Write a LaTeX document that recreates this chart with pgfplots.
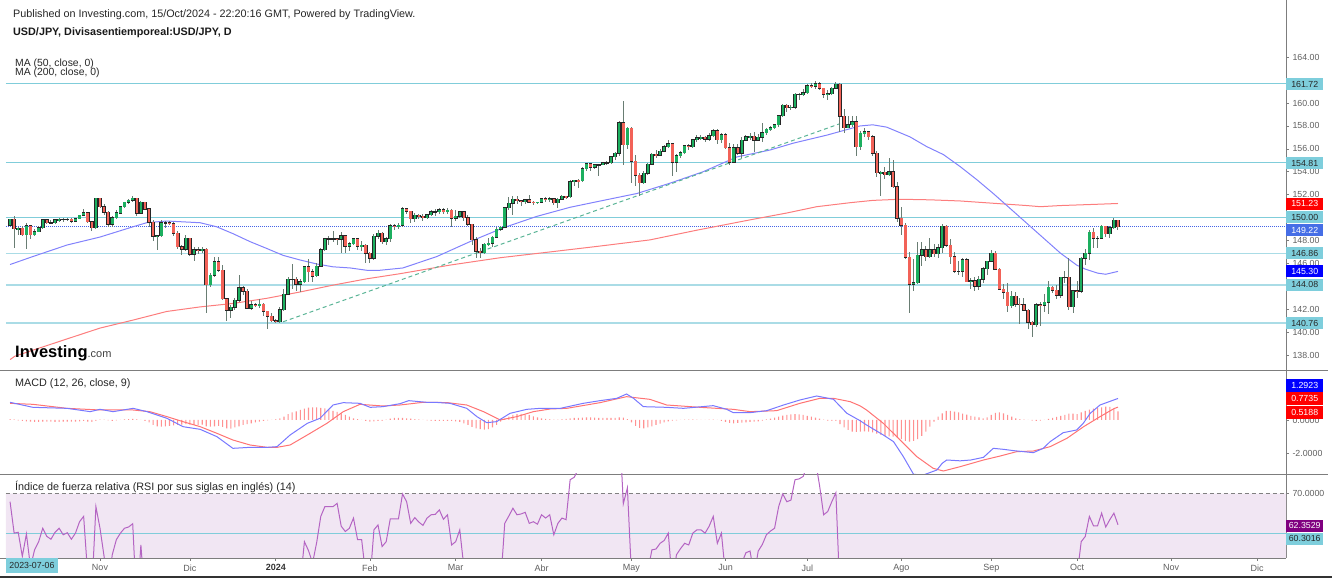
\documentclass[border=0pt]{standalone}
\usepackage{pgfplots}
\pgfplotsset{compat=1.18}
\usepackage{pgfplotstable}
\usepackage{fontspec}
\setmainfont{Liberation Sans}
\setsansfont{Liberation Sans}

\definecolor{lvl}{RGB}{128,205,218}
\definecolor{lvllight}{RGB}{170,220,230}
\definecolor{upc}{RGB}{28,175,95}
\definecolor{dnc}{RGB}{242,98,88}
\definecolor{wick}{RGB}{105,125,115}
\definecolor{ma50}{RGB}{130,130,252}
\definecolor{ma200}{RGB}{252,125,125}
\definecolor{trend}{RGB}{90,180,150}
\definecolor{pricel}{RGB}{70,100,230}
\definecolor{tickc}{RGB}{95,95,95}
\definecolor{sep}{RGB}{125,125,125}
\definecolor{boxcyan}{RGB}{126,206,220}
\definecolor{boxroyal}{RGB}{70,110,230}
\definecolor{boxpurple}{RGB}{128,0,128}
\definecolor{rsiband}{RGB}{241,230,243}
\definecolor{rsil}{RGB}{180,100,195}
\definecolor{histc}{RGB}{255,145,145}
\definecolor{macdb}{RGB}{120,120,255}
\definecolor{macdr}{RGB}{255,115,115}

\pgfplotstableread{
i o h l c
0 149.35 149.90 149.30 149.85
1 149.85 150.16 147.30 149.02
2 149.02 149.20 148.50 149.05
3 149.05 149.30 148.45 148.50
4 148.50 149.53 147.28 149.30
5 149.30 149.35 148.15 148.50
6 148.50 149.00 148.40 148.75
7 148.75 149.30 148.70 149.10
8 149.10 149.85 149.00 149.80
9 149.80 149.85 149.40 149.55
10 149.55 149.75 149.40 149.55
11 149.55 149.90 149.45 149.80
12 149.80 149.95 149.65 149.85
13 149.85 149.98 149.65 149.85
14 149.85 150.00 149.70 149.85
15 149.85 150.00 149.55 149.70
16 149.70 149.95 149.60 149.90
17 149.90 150.25 149.85 150.20
18 150.20 150.78 150.10 150.40
19 150.40 150.45 149.60 149.65
20 149.65 149.70 148.80 149.10
21 149.10 151.70 149.00 151.68
22 151.68 151.72 150.80 150.95
23 150.95 151.15 150.20 150.45
24 150.45 150.55 149.20 149.40
25 149.40 150.10 149.20 150.00
26 150.00 150.70 149.85 150.40
27 150.40 151.00 150.30 150.95
28 150.95 151.40 150.85 151.35
29 151.35 151.60 151.20 151.50
30 151.50 151.91 151.40 151.70
31 151.70 151.75 150.15 150.40
32 150.40 151.45 150.40 151.35
33 151.35 151.40 150.70 150.75
34 150.75 150.80 149.20 149.60
35 149.60 149.75 147.95 148.35
36 148.35 148.45 147.15 148.40
37 148.40 149.75 148.30 149.55
38 149.55 149.70 149.10 149.55
39 149.55 149.70 149.35 149.45
40 149.45 149.65 148.40 148.65
41 148.65 148.80 147.25 147.45
42 147.45 147.60 146.70 147.25
43 147.25 148.50 147.10 148.20
44 148.20 148.25 146.65 146.80
45 146.80 147.45 146.25 147.20
46 147.20 147.45 146.85 147.15
47 147.15 147.45 146.95 147.25
48 147.25 147.30 141.65 144.15
49 144.15 145.20 143.90 144.95
50 144.95 146.60 144.85 146.15
51 146.15 146.60 145.25 145.40
52 145.40 145.90 142.80 142.90
53 142.90 143.00 140.95 141.90
54 141.90 142.40 141.20 142.15
55 142.15 142.95 141.90 142.80
56 142.80 144.95 142.60 143.85
57 143.85 144.00 143.20 143.55
58 143.55 143.75 142.05 142.10
59 142.10 142.70 141.90 142.40
60 142.40 142.55 142.20 142.35
61 142.35 142.85 142.10 142.45
62 142.45 142.50 141.40 141.80
63 141.80 141.85 140.25 141.40
64 141.40 141.70 140.90 141.00
65 141.00 141.10 140.80 140.90
66 140.90 142.20 140.80 141.95
67 141.95 143.75 141.80 143.30
68 143.30 144.85 143.20 144.60
69 144.60 145.98 143.80 144.60
70 144.60 144.80 143.60 144.20
71 144.20 144.60 143.50 144.40
72 144.40 145.80 144.30 145.70
73 145.70 146.40 144.35 145.25
74 145.25 145.55 144.35 144.90
75 144.90 146.00 144.85 145.75
76 145.75 147.30 145.70 147.20
77 147.20 148.20 147.10 148.15
78 148.15 148.40 147.60 148.15
79 148.15 148.80 147.85 148.15
80 148.15 148.25 147.60 148.10
81 148.10 148.70 146.95 148.40
82 148.40 148.50 146.90 147.50
83 147.50 147.90 147.05 147.70
84 147.70 148.25 147.60 148.15
85 148.15 148.25 147.15 147.50
86 147.50 147.95 147.10 147.60
87 147.60 147.70 146.00 146.90
88 146.90 147.00 146.00 146.45
89 146.45 148.60 146.30 148.35
90 148.35 148.90 148.10 148.65
91 148.65 148.75 147.65 147.90
92 147.90 148.30 147.60 148.15
93 148.15 149.40 147.90 149.30
94 149.30 149.45 148.90 149.25
95 149.25 149.50 149.00 149.35
96 149.35 150.90 149.20 150.75
97 150.75 150.80 150.35 150.55
98 150.55 150.60 149.55 149.90
99 149.90 150.40 149.60 150.20
100 150.20 150.30 149.90 150.10
101 150.10 150.30 149.70 150.00
102 150.00 150.35 149.85 150.25
103 150.25 150.65 150.10 150.50
104 150.50 150.75 150.15 150.50
105 150.50 150.85 150.30 150.70
106 150.70 150.80 150.35 150.50
107 150.50 150.80 150.30 150.65
108 150.65 150.75 149.20 149.95
109 149.95 150.70 149.70 150.10
110 150.10 150.60 149.95 150.50
111 150.50 150.55 149.70 150.00
112 150.00 150.20 149.30 149.40
113 149.40 149.45 147.60 148.05
114 148.05 148.30 146.50 147.05
115 147.05 147.30 146.50 146.95
116 146.95 147.80 146.80 147.65
117 147.65 148.20 147.50 147.75
118 147.75 148.40 147.45 148.30
119 148.30 149.15 148.20 149.00
120 149.00 149.25 148.80 149.15
121 149.15 150.95 149.10 150.85
122 150.85 151.80 150.70 151.25
123 151.25 151.85 150.25 151.60
124 151.60 151.85 151.20 151.45
125 151.45 151.55 151.05 151.40
126 151.40 151.60 151.20 151.55
127 151.55 151.97 151.25 151.35
128 151.35 151.45 151.10 151.30
129 151.30 151.40 151.20 151.35
130 151.35 151.75 151.25 151.65
131 151.65 151.80 151.40 151.55
132 151.55 151.80 151.40 151.65
133 151.65 151.75 151.10 151.30
134 151.30 151.75 150.80 151.60
135 151.60 151.95 151.55 151.85
136 151.85 151.90 151.60 151.80
137 151.80 153.25 151.70 153.15
138 153.15 153.30 152.75 153.25
139 153.25 153.40 152.60 153.20
140 153.20 154.45 153.10 154.25
141 154.25 154.80 154.10 154.70
142 154.70 154.75 154.10 154.40
143 154.40 154.70 154.20 154.60
144 154.60 154.70 153.60 154.60
145 154.60 154.85 154.55 154.80
146 154.80 154.90 154.55 154.80
147 154.80 155.40 154.70 155.30
148 155.30 155.75 155.05 155.60
149 155.60 158.45 155.35 158.30
150 158.30 160.20 154.55 156.35
151 156.35 157.95 155.95 157.80
152 157.80 157.95 153.00 154.90
153 154.90 155.50 152.80 153.70
154 153.70 153.90 151.90 153.05
155 153.05 154.10 152.90 153.85
156 153.85 154.75 153.70 154.65
157 154.65 155.65 154.60 155.55
158 155.55 155.90 155.20 155.45
159 155.45 155.95 155.35 155.80
160 155.80 156.30 155.70 156.20
161 156.20 156.75 156.10 156.45
162 156.45 156.55 153.60 154.85
163 154.85 155.55 153.95 155.40
164 155.40 155.85 155.20 155.65
165 155.65 156.30 155.55 156.25
166 156.25 156.40 155.90 156.20
167 156.20 156.85 156.10 156.80
168 156.80 157.20 156.60 156.95
169 156.95 157.20 156.80 157.00
170 157.00 157.10 156.60 156.85
171 156.85 157.35 156.70 157.15
172 157.15 157.75 157.05 157.60
173 157.60 157.70 156.40 156.80
174 156.80 157.35 156.50 157.25
175 157.25 157.40 155.95 156.10
176 156.10 156.50 154.55 154.85
177 154.85 156.45 154.75 156.10
178 156.10 156.45 155.45 155.60
179 155.60 157.00 155.20 156.75
180 156.75 157.25 156.70 157.05
181 157.05 157.35 156.75 157.10
182 157.10 157.45 155.70 156.75
183 156.75 157.30 156.70 157.00
184 157.00 158.25 156.60 157.40
185 157.40 157.80 157.25 157.70
186 157.70 158.00 157.60 157.85
187 157.85 158.20 157.75 158.10
188 158.10 159.00 157.95 158.90
189 158.90 159.90 158.80 159.80
190 159.80 159.95 159.25 159.60
191 159.60 159.80 159.40 159.65
192 159.65 160.85 159.50 160.75
193 160.75 160.90 160.30 160.75
194 160.75 161.25 160.60 160.90
195 160.90 161.70 160.80 161.50
196 161.50 161.75 161.30 161.45
197 161.45 161.95 161.25 161.70
198 161.70 161.80 161.10 161.30
199 161.30 161.35 160.45 160.75
200 160.75 161.15 160.25 160.80
201 160.80 161.40 160.70 161.30
202 161.30 161.80 161.25 161.65
203 161.65 161.75 157.45 158.85
204 158.85 159.45 157.40 157.85
205 157.85 158.90 157.80 158.10
206 158.10 158.85 157.95 158.35
207 158.35 158.85 155.40 156.20
208 156.20 157.60 155.90 157.35
209 157.35 157.85 157.00 157.50
210 157.50 157.60 156.80 157.05
211 157.05 157.20 155.40 155.60
212 155.60 155.85 153.50 153.90
213 153.90 154.10 151.90 153.95
214 153.95 154.40 153.40 153.75
215 153.75 155.20 153.60 154.00
216 154.00 155.05 152.55 152.70
217 152.70 153.10 149.65 149.95
218 149.95 150.90 148.50 149.35
219 149.35 149.55 146.40 146.55
220 146.55 147.00 141.70 144.20
221 144.20 146.40 143.60 144.30
222 144.30 147.90 144.20 146.70
223 146.70 147.85 145.80 147.20
224 147.20 147.50 146.25 146.60
225 146.60 148.20 146.50 147.20
226 147.20 147.70 146.60 146.85
227 146.85 147.65 146.50 147.35
228 147.35 149.40 146.95 149.25
229 149.25 149.35 147.45 147.60
230 147.60 148.10 145.95 146.60
231 146.60 147.00 145.20 145.30
232 145.30 146.20 144.95 145.30
233 145.30 146.50 144.85 146.30
234 146.30 146.45 144.40 144.40
235 144.40 144.70 143.80 144.50
236 144.50 144.80 143.55 144.00
237 144.00 144.90 143.70 144.60
238 144.60 145.70 144.30 145.55
239 145.55 146.25 144.95 146.20
240 146.20 147.20 146.10 146.90
241 146.90 147.10 145.45 145.50
242 145.50 145.60 143.70 143.75
243 143.75 144.20 142.90 143.50
244 143.50 144.30 141.75 142.30
245 142.30 143.60 142.10 143.15
246 143.15 143.50 142.20 142.45
247 142.45 142.95 140.70 142.40
248 142.40 143.00 141.80 141.90
249 141.90 142.00 140.30 140.85
250 140.85 141.00 139.60 140.65
251 140.65 142.50 140.45 142.40
252 142.40 142.60 140.50 142.35
253 142.35 143.30 141.75 142.60
254 142.60 144.50 141.60 143.90
255 143.90 144.05 143.40 143.65
256 143.65 144.10 142.90 143.20
257 143.20 144.85 142.95 144.80
258 144.80 145.30 144.30 144.80
259 144.80 146.50 141.95 142.20
260 142.20 143.70 141.65 143.60
261 143.60 144.50 142.95 143.55
262 143.55 146.55 143.40 146.45
263 146.45 147.25 145.90 146.90
264 146.90 148.95 146.30 148.70
265 148.70 149.10 147.35 148.20
266 148.20 148.35 147.35 148.20
267 148.20 149.35 148.10 149.25
268 149.25 149.30 148.30 148.60
269 148.60 149.30 148.20 149.10
270 149.10 149.95 149.00 149.75
271 149.75 149.80 148.90 149.20
}\candles

\pgfplotstableread[row sep=\\]{v\\
0.05\\0.03\\-0.02\\-0.05\\-0.08\\-0.1\\-0.12\\-0.12\\-0.1\\-0.1\\
-0.1\\-0.12\\-0.12\\-0.1\\-0.1\\-0.1\\-0.1\\-0.08\\-0.05\\-0.1\\
-0.12\\-0.05\\0.02\\0.02\\-0.03\\-0.05\\-0.03\\0.0\\0.03\\0.05\\
0.06\\0.03\\0.0\\-0.05\\-0.15\\-0.3\\-0.38\\-0.4\\-0.38\\-0.35\\
-0.32\\-0.3\\-0.28\\-0.25\\-0.28\\-0.3\\-0.3\\-0.28\\-0.38\\-0.4\\
-0.38\\-0.36\\-0.42\\-0.5\\-0.52\\-0.45\\-0.38\\-0.3\\-0.25\\-0.2\\
-0.15\\-0.1\\-0.06\\-0.03\\0.0\\0.03\\0.1\\0.2\\0.35\\0.45\\
0.52\\0.6\\0.68\\0.74\\0.76\\0.75\\0.72\\0.7\\0.62\\0.55\\
0.48\\0.4\\0.3\\0.2\\0.1\\0.05\\0.0\\-0.05\\-0.1\\-0.08\\
-0.06\\-0.05\\0.02\\0.08\\0.12\\0.12\\0.12\\0.1\\0.08\\0.05\\
0.03\\0.0\\-0.02\\-0.05\\-0.06\\-0.05\\-0.05\\-0.05\\-0.06\\-0.08\\
-0.12\\-0.2\\-0.3\\-0.42\\-0.5\\-0.55\\-0.58\\-0.55\\-0.45\\-0.3\\
-0.1\\0.08\\0.2\\0.3\\0.35\\0.36\\0.34\\0.3\\0.22\\0.15\\
0.1\\0.06\\0.03\\0.02\\0.02\\0.04\\0.06\\0.1\\0.12\\0.12\\
0.14\\0.15\\0.15\\0.14\\0.13\\0.12\\0.12\\0.12\\0.12\\0.15\\
0.14\\0.05\\-0.15\\-0.35\\-0.48\\-0.5\\-0.45\\-0.38\\-0.3\\-0.22\\
-0.15\\-0.08\\-0.04\\-0.02\\0.0\\0.02\\0.02\\0.03\\0.02\\0.0\\
0.0\\0.02\\0.02\\0.0\\-0.05\\-0.12\\-0.18\\-0.2\\-0.18\\-0.16\\
-0.14\\-0.12\\-0.1\\-0.08\\-0.04\\0.03\\0.08\\0.14\\0.2\\0.26\\
0.3\\0.33\\0.35\\0.33\\0.3\\0.25\\0.2\\0.14\\0.08\\0.02\\
-0.04\\-0.06\\-0.05\\-0.25\\-0.45\\-0.6\\-0.7\\-0.72\\-0.7\\-0.68\\
-0.7\\-0.75\\-0.82\\-0.9\\-0.95\\-0.98\\-1.0\\-1.05\\-1.15\\-1.25\\
-1.3\\-1.25\\-1.15\\-0.95\\-0.7\\-0.4\\-0.1\\0.2\\0.4\\0.55\\
0.55\\0.5\\0.45\\0.38\\0.32\\0.25\\0.2\\0.15\\0.1\\0.15\\
0.3\\0.42\\0.45\\0.4\\0.3\\0.2\\0.1\\0.05\\0.02\\0.0\\
-0.04\\-0.05\\-0.04\\0.0\\0.06\\0.12\\0.18\\0.24\\0.3\\0.38\\
0.38\\0.35\\0.45\\0.55\\0.62\\0.68\\0.72\\0.76\\0.8\\0.78\\
0.65\\0.5188\\
}\hist

\pgfplotstableread[row sep=\\]{v\\
68.0\\60.3\\60.5\\54.6\\60.1\\52.0\\56.2\\58.2\\61.5\\59.5\\
58.8\\60.5\\61.5\\59.9\\60.4\\58.8\\60.3\\63.1\\64.4\\50.0\\
46.0\\66.8\\61.5\\54.6\\47.0\\55.0\\58.7\\60.3\\61.5\\61.8\\
62.6\\42\\57.4\\44\\38\\32\\33\\42\\42\\41\\
37\\33\\32\\38\\33\\36\\36\\37\\28\\33\\
39\\37\\30\\27\\29\\32\\37\\36\\32\\34\\
34\\35\\33\\31\\30\\30\\38\\44\\49\\49\\
47\\48\\58.2\\56.0\\53.0\\58.0\\64.4\\66.8\\66.8\\66.8\\
67.6\\62.0\\60.7\\61.5\\64.0\\58.7\\58.7\\50.0\\48.0\\61.1\\
62.3\\57.0\\58.2\\63.8\\63.8\\63.8\\69.9\\68.0\\62.7\\64.1\\
63.0\\62.2\\64.0\\64.8\\64.9\\66.0\\63.7\\64.8\\57.4\\58.2\\
61.1\\52.0\\45\\38\\33\\33\\40\\41\\45\\50\\
48\\62.7\\64.5\\66.4\\64.8\\65.0\\65.4\\62.7\\63.1\\62.5\\
64.8\\64.0\\64.8\\59.9\\62.7\\64.0\\63.6\\73.4\\74.0\\76\\
80\\82\\79\\80\\80\\81\\81\\83\\84\\88\\
67.5\\71.4\\50\\44\\40\\46\\51\\56.2\\56.4\\57.8\\
58.5\\60.3\\48\\55.0\\56.5\\57.8\\57.4\\60.3\\61.1\\61.1\\
60.3\\62.0\\64.4\\57.8\\60.3\\50\\42\\50\\47\\53\\
55.5\\55.9\\50\\55.9\\57.5\\59.9\\60.8\\61.5\\66.8\\69.9\\
68.0\\68.4\\73.4\\73.6\\74.2\\77\\77\\78\\72\\64.8\\
65.6\\68.0\\70.2\\45\\40\\42\\43\\36\\41\\42\\
40\\34\\28\\29\\28\\30\\27\\22\\21\\17\\
15\\18\\27\\30\\29\\32\\31\\33\\40\\37\\
35\\33\\33\\37\\33\\33\\32\\35\\37\\41\\
43\\40\\36\\35\\33\\36\\35\\35\\34\\31\\
31\\38\\38\\39\\43\\42\\41\\46\\46\\39\\
44\\50\\58.2\\59.5\\64.4\\62.1\\62.1\\65.2\\61.8\\63.6\\
65.2\\62.35\\
}\rsi

\pgfplotsset{
  panel/.style={
    scale only axis, width=1286pt,
    xmin=-2.46, xmax=312.1,
    axis x line*=bottom, axis y line*=right,
    axis line style={draw=sep, line width=0.8pt},
    tick align=outside, major tick length=3pt,
    tick style={draw=sep, line width=0.6pt},
    scaled y ticks=false,
    yticklabel style={font=\fontsize{8.8}{10}\selectfont, text=tickc, anchor=west},
    /pgf/number format/assume math mode=true,
    clip=true,
  },
}
\tikzset{pbox/.style={anchor=west, minimum width=37pt, minimum height=12pt, inner sep=0pt, font=\fontsize{8.8}{10}\selectfont}}

\begin{document}
\begin{tikzpicture}
\useasboundingbox (0pt,0pt) rectangle (1332pt,578pt);

% ---------------- price panel ----------------
\begin{axis}[panel, at={(0pt,208pt)}, anchor=south west, height=370pt,
  ymin=136.69, ymax=169.0, xtick=\empty,
  ytick={138,140,142,144,146,148,150,152,154,156,158,160,164},
  yticklabel style={/pgf/number format/fixed, /pgf/number format/fixed zerofill, /pgf/number format/precision=2}]
\addplot[lvl, line width=1pt, forget plot] coordinates {(-1,161.72) (312.1,161.72)};
\addplot[lvl, line width=1pt, forget plot] coordinates {(-1,154.81) (312.1,154.81)};
\addplot[lvl, line width=1pt, forget plot] coordinates {(-1,150.00) (312.1,150.00)};
\addplot[lvllight, line width=1.8pt, forget plot] coordinates {(-1,146.86) (312.1,146.86)};
\addplot[lvllight, line width=1.8pt, forget plot] coordinates {(-1,144.08) (312.1,144.08)};
\addplot[lvllight, line width=1.8pt, forget plot] coordinates {(-1,140.76) (312.1,140.76)};
\addplot[pricel, line width=0.8pt, dash pattern=on 1pt off 1pt, forget plot] coordinates {(-1,149.22) (312.1,149.22)};
\addplot[ma200, line width=1pt, forget plot] coordinates {(0,137.6) (1.2,137.9) (13.9,139.4) (22,140.35) (30.1,141.05) (38.3,141.8) (46.5,142.2) (54.5,142.5) (62.8,142.95) (70.9,143.5) (79,144.1) (87.2,144.65) (95.4,145.1) (107.6,145.85) (120,146.5) (132.1,147.0) (144,147.5) (156.5,148.05) (168,148.9) (181,149.8) (190,150.4) (197.3,150.95) (205.5,151.3) (211,151.5) (217.7,151.6) (225,151.55) (232.4,151.45) (240.5,151.25) (248.7,151.05) (252,150.95) (256.9,151.05) (265,151.15) (271,151.23)};
\addplot[ma50, line width=1pt, forget plot] coordinates {(0,145.9) (5.6,146.6) (13.9,147.6) (22,148.3) (30.1,149.2) (33.4,149.55) (38.3,149.7) (46.5,149.55) (50.5,149.2) (54.5,148.6) (58.7,147.9) (62.8,147.3) (66.8,146.7) (70.9,146.3) (75,145.95) (79,145.7) (83.2,145.6) (87.2,145.4) (90.5,145.4) (96.1,145.6) (104.4,146.6) (112.5,147.9) (120.6,149.1) (128.8,150.1) (137,150.9) (145.1,151.5) (153.3,152.1) (161.4,153.0) (169.5,154.0) (177.8,155.3) (185.9,155.9) (191.6,156.5) (199.8,157.2) (207.9,158.0) (211,158.1) (214.4,157.9) (220.1,157.05) (224.2,156.2) (228.3,155.5) (232.4,154.45) (236.5,153.3) (240.5,152.1) (244.6,150.8) (248.7,149.5) (252.8,148.2) (256.9,146.9) (260.9,145.85) (263,145.5) (266,145.15) (268,145.05) (271,145.3)};
\addplot[trend, line width=1pt, dash pattern=on 4pt off 3pt, forget plot] coordinates {(66.8,140.9) (203,158.2)};
% wicks
\addplot[draw=none, mark=none, forget plot,
  error bars/.cd, y dir=both, y explicit, error mark=none, error bar style={draw=wick, line width=1pt}]
  table[x=i, y=c, y error plus expr=\thisrow{h}-\thisrow{c}, y error minus expr=\thisrow{c}-\thisrow{l}] {\candles};
% body outlines
\addplot[draw=none, mark=none, forget plot,
  error bars/.cd, y dir=both, y explicit, error mark=none, error bar style={draw=black!85, line width=3.7pt}]
  table[x=i, y expr=(\thisrow{o}+\thisrow{c})/2, y error expr=abs(\thisrow{o}-\thisrow{c})/2+0.045] {\candles};
% up bodies
\addplot[draw=none, mark=none, forget plot, restrict expr to domain={\thisrow{c}-\thisrow{o}}{0:100},
  error bars/.cd, y dir=both, y explicit, error mark=none, error bar style={draw=upc, line width=2.5pt}]
  table[x=i, y expr=(\thisrow{o}+\thisrow{c})/2, y error expr=abs(\thisrow{o}-\thisrow{c})/2] {\candles};
% down bodies
\addplot[draw=none, mark=none, forget plot, restrict expr to domain={\thisrow{c}-\thisrow{o}}{-100:0},
  error bars/.cd, y dir=both, y explicit, error mark=none, error bar style={draw=dnc, line width=2.5pt}]
  table[x=i, y expr=(\thisrow{o}+\thisrow{c})/2, y error expr=abs(\thisrow{o}-\thisrow{c})/2] {\candles};
\end{axis}

% ---------------- MACD panel ----------------
\begin{axis}[panel, at={(0pt,104pt)}, anchor=south west, height=104pt,
  ymin=-3.24, ymax=3.0, xtick=\empty, ytick={-2,0,2},
  yticklabel style={/pgf/number format/fixed, /pgf/number format/fixed zerofill, /pgf/number format/precision=4}]
\addplot[ybar, bar width=1.1pt, fill=histc, draw=none, forget plot] table[x expr=\coordindex, y=v] {\hist};
\addplot[macdr, line width=1pt, forget plot] coordinates {(0,1.0) (5.6,0.94) (13.9,0.70) (22,0.60) (30.1,0.60) (34.2,0.50) (38.4,0.2) (42.3,-0.1) (46.5,-0.4) (50.6,-0.8) (54.5,-1.2) (58.7,-1.5) (62.9,-1.64) (65.3,-1.64) (68.5,-1.5) (72.7,-0.9) (77.5,-0.2) (81.5,0.5) (85.6,0.94) (91.2,0.84) (95.4,0.9) (101,1.06) (104,1.06) (107,1.04) (111.7,0.9) (115.8,0.5) (119.9,0.0) (123.9,0.2) (128,0.5) (132.1,0.66) (136.2,0.70) (144.3,1.04) (150.8,1.4) (156.5,1.24) (160.6,0.9) (168.8,0.76) (176.9,0.64) (181,0.5) (187.5,0.56) (193.2,1.0) (198.1,1.3) (201.4,1.3) (205.5,1.1) (207.9,0.85) (209.5,0.6) (213.6,-0.2) (217.7,-1.2) (221.8,-2.2) (225.8,-2.9) (228.3,-3.06) (232.4,-2.8) (238.1,-2.4) (242.2,-2.16) (246.2,-1.9) (250.3,-1.86) (254.4,-1.6) (258.5,-1.1) (262.6,-0.4) (266.6,0.2) (270,0.68) (271,0.7735)};
\addplot[macdb, line width=1pt, forget plot] coordinates {(0,1.06) (5.6,0.76) (13.9,0.70) (19.6,0.50) (22,0.64) (25.2,0.50) (30.1,0.70) (33.5,0.50) (38.4,0.10) (42.3,-0.40) (46.5,-0.56) (50.6,-1.0) (54.5,-1.70) (58.7,-1.64) (62.9,-1.64) (65.3,-1.6) (68.5,-0.9) (72.7,-0.2) (75.8,0.10) (79,0.90) (81.5,1.04) (85.6,1.0) (88.1,0.76) (91.2,0.8) (95.4,0.98) (97.5,1.16) (102,1.06) (104,1.06) (107.6,1.0) (111.7,0.70) (114.2,0.2) (116.6,-0.16) (119,-0.1) (122.3,0.4) (126.4,0.64) (129.7,0.70) (134.6,0.70) (140.2,1.0) (144.3,1.16) (148.4,1.3) (150.8,1.56) (152.5,1.3) (154.9,0.8) (160.6,0.76) (164.7,0.70) (172,0.86) (175.3,0.64) (176.9,0.44) (181,0.44) (185.1,0.56) (189.2,0.90) (193.2,1.2) (197.3,1.44) (201.4,1.24) (204.7,0.4) (207.9,-0.04) (209.5,-0.3) (213.6,-0.9) (216.1,-1.3) (218.5,-2.2) (221,-3.26) (223.4,-3.3) (226.7,-3.0) (228,-2.6) (229.1,-2.4) (232.4,-2.45) (235,-2.4) (238.1,-2.24) (240.5,-1.7) (243,-1.76) (245.5,-1.84) (250.3,-1.96) (252.7,-1.7) (254.4,-1.3) (257.6,-0.76) (260.9,-0.6) (262.5,-0.2) (264.2,0.4) (266.6,0.9) (271,1.2923)};
\end{axis}

% ---------------- RSI panel ----------------
\begin{axis}[panel, at={(0pt,20pt)}, anchor=south west, height=84pt,
  ymin=54.2, ymax=74.8, ytick={70},
  yticklabel style={/pgf/number format/fixed, /pgf/number format/fixed zerofill, /pgf/number format/precision=4},
  xtick={22,44,65,88,109,130,152,175,195,218,240,261,284,305},
  xticklabels={Nov,Dic,\textbf{\color{black!80}2024},Feb,Mar,Abr,May,Jun,Jul,Ago,Sep,Oct,Nov,Dic},
  xticklabel style={font=\fontsize{9}{10}\selectfont, text=tickc}]
\addplot[fill=rsiband, draw=none, forget plot] coordinates {(-1,30) (312.1,30) (312.1,70) (-1,70)} \closedcycle;
\addplot[gray, line width=0.8pt, dash pattern=on 4pt off 3pt, forget plot] coordinates {(-1,70) (312.1,70)};
\addplot[lvl, line width=1pt, forget plot] coordinates {(-1,60.3016) (312.1,60.3016)};
\addplot[rsil, line width=1pt, forget plot] table[x expr=\coordindex, y=v] {\rsi};
\end{axis}

% separators extending into label column
\draw[sep, line width=0.8pt] (1286pt,208pt) -- (1328pt,208pt);
\draw[sep, line width=0.8pt] (1286pt,104pt) -- (1328pt,104pt);
\fill[black!80] (0pt,0pt) rectangle (1332pt,2.5pt);

% texts
\node[anchor=base west, inner sep=0pt, font=\fontsize{10.8}{12}\selectfont, text=black!85] at (13pt,560pt) {Published on Investing.com, 15/Oct/2024 - 22:20:16 GMT, Powered by TradingView.};
\node[anchor=base west, inner sep=0pt, font=\fontsize{10.8}{12}\selectfont\bfseries, text=black!90] at (13pt,542pt) {USD/JPY, Divisasentiemporeal:USD/JPY, D};
\node[anchor=base west, inner sep=0pt, font=\fontsize{10.4}{11}\selectfont, text=black!85] at (15pt,511.8pt) {MA (50, close, 0)};
\node[anchor=base west, inner sep=0pt, font=\fontsize{10.4}{11}\selectfont, text=black!85] at (15pt,502.4pt) {MA (200, close, 0)};
\node[anchor=base west, inner sep=0pt] at (15pt,220pt) {\fontsize{16.5}{18}\selectfont\bfseries Investing{\fontsize{11}{12}\selectfont\mdseries\color{black!75}.com}};
\node[anchor=base west, inner sep=0pt, font=\fontsize{10.8}{12}\selectfont, text=black!85] at (15pt,191pt) {MACD (12, 26, close, 9)};
\node[anchor=base west, inner sep=0pt, font=\fontsize{10.8}{12}\selectfont, text=black!85] at (15pt,87pt) {Índice de fuerza relativa (RSI por sus siglas en inglés) (14)};

% right-hand value boxes
\node[pbox, fill=boxcyan, text=black!85] at (1286pt,493.8pt) {161.72};
\node[pbox, fill=boxcyan, text=black!85] at (1286pt,415pt) {154.81};
\node[pbox, fill=red, text=white] at (1286pt,374.2pt) {151.23};
\node[pbox, fill=boxcyan, text=black!85] at (1286pt,360.5pt) {150.00};
\node[pbox, fill=boxroyal, text=white] at (1286pt,347.5pt) {149.22};
\node[pbox, fill=boxcyan, text=black!85] at (1286pt,325pt) {146.86};
\node[pbox, fill=blue, text=white] at (1286pt,306.5pt) {145.30};
\node[pbox, fill=boxcyan, text=black!85] at (1286pt,293.2pt) {144.08};
\node[pbox, fill=boxcyan, text=black!85] at (1286pt,254.7pt) {140.76};
\node[pbox, fill=blue, text=white, minimum height=13pt] at (1286pt,192.7pt) {1.2923};
\node[pbox, fill=red, text=white, minimum height=13pt] at (1286pt,179.3pt) {0.7735};
\node[pbox, fill=red, text=white, minimum height=13pt] at (1286pt,165.9pt) {0.5188};
\node[pbox, fill=boxpurple, text=white] at (1286pt,52.5pt) {62.3529};
\node[pbox, fill=boxcyan, text=black!85] at (1286pt,39.2pt) {60.3016};
\node[fill=boxcyan, text=black!85, minimum width=52pt, minimum height=15pt, inner sep=0pt, font=\fontsize{8.8}{10}\selectfont] at (32pt,12.4pt) {2023-07-06};
\end{tikzpicture}
\end{document}
